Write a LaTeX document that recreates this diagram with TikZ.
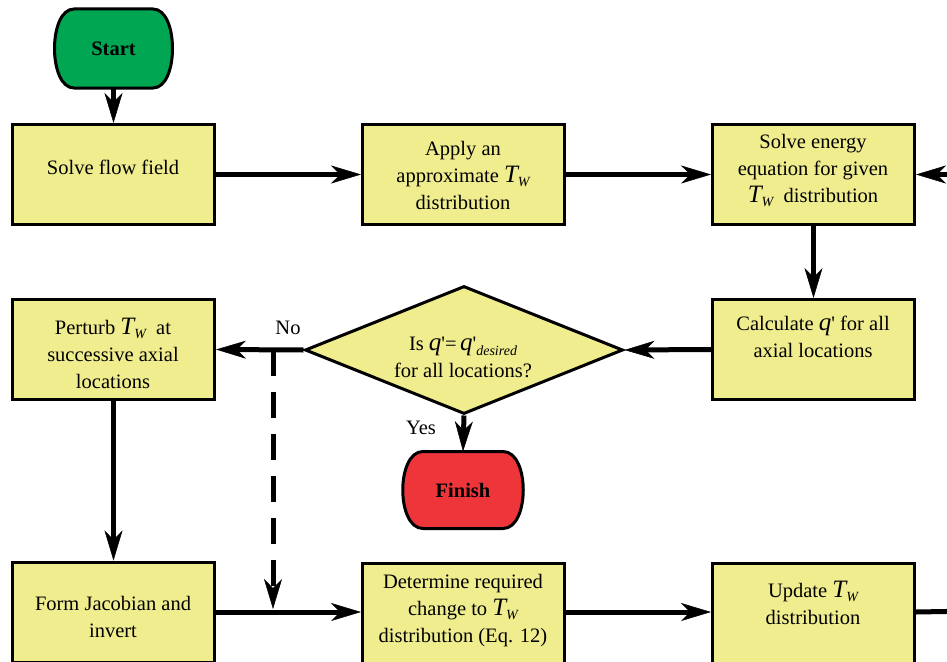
\documentclass[tikz,border=0pt]{standalone}
\usepackage{fontspec}
\setmainfont{Liberation Serif}
\usetikzlibrary{arrows.meta,shapes.geometric}
\definecolor{boxy}{RGB}{240,237,143}
\definecolor{startg}{RGB}{0,166,81}
\definecolor{finr}{RGB}{238,53,58}
\newcommand{\TW}{{\fontsize{25}{25}\selectfont\itshape T}\raisebox{-4pt}{\fontsize{14}{14}\selectfont\itshape W}}
\newcommand{\qp}{{\fontsize{25}{25}\selectfont\itshape q}\textquotesingle}
\begin{document}
\begin{tikzpicture}[x=1pt,y=-1pt,
  box/.style={draw, line width=3pt, fill=boxy, minimum width=202pt, minimum height=100pt, inner sep=0pt},
  txt/.style={align=center, font=\fontsize{20.5}{27}\selectfont, inner sep=0pt},
  term/.style={line width=3pt, draw=black},
  conn/.style={line width=5pt, -{Stealth[length=30pt,width=18pt,inset=9pt,line width=0.5pt]}},
  dconn/.style={line width=5pt, dash pattern=on 26pt off 16pt, -{Stealth[length=30pt,width=18pt,inset=9pt,line width=0.5pt]}},
  plain/.style={line width=5pt}]
\useasboundingbox (0,0) rectangle (947,661);
\clip (0,0) rectangle (947,661);
\fill[white] (0,0) rectangle (947,661);

% terminals
\draw[term, fill=startg] (74,9) -- (153,9) .. controls (179,9) and (179,88) .. (153,88) -- (74,88) .. controls (48,88) and (48,9) .. (74,9) -- cycle;
\node[txt, font=\fontsize{20.5}{24}\selectfont\bfseries, minimum width=118pt, minimum height=79pt] (start) at (113.5,48.5) {Start};

\draw[term, fill=finr] (423,451.5) -- (503,451.5) .. controls (530,451.5) and (530,528.5) .. (503,528.5) -- (423,528.5) .. controls (396,528.5) and (396,451.5) .. (423,451.5) -- cycle;
\node[txt, font=\fontsize{20.5}{24}\selectfont\bfseries, minimum width=120pt, minimum height=77pt] (fin) at (463,490) {Finish};

% boxes
\node[box] (flow) at (113.5,174.5) {};
\node[box] (apply) at (463.5,174.5) {};
\node[box] (energy) at (813.5,174.5) {};
\node[box] (calc) at (813.5,349.5) {};
\node[box] (perturb) at (113.5,349.5) {};
\node[box] (form) at (113.5,612) {};
\node[box] (det) at (463.5,613) {};
\node[box] (upd) at (813.5,613) {};
\node[draw, diamond, fill=boxy, line width=3pt, minimum width=318pt, minimum height=128pt, inner sep=0pt] (dec) at (464,350) {};

% texts
\node[txt] (flowt) at (113,167) {Solve flow field};
\node[txt] (applyt) at (463,175) {Apply an\\approximate \TW\\distribution};
\node[txt] (energyt) at (813,170) {Solve energy\\equation for given\\\TW\ \ distribution};
\node[txt] (calct) at (813,337) {Calculate \qp\ for all\\axial locations};
\node[txt] (perturbt) at (113,353) {Perturb \TW\ \ at\\successive axial\\locations};
\node[txt] (dect) at (463,357) {Is \qp=\,\qp\raisebox{-5pt}{\fontsize{14}{14}\selectfont\itshape desired}\\for all locations?};
\node[txt] (formt) at (113,617) {Form Jacobian and\\invert};
\node[txt] (dett) at (463,611) {Determine required\\change to \TW\\distribution (Eq. 12)};
\node[txt] (updt) at (813,603) {Update \TW\\distribution};
\node[txt] (no) at (288,328) {No};
\node[txt] (yes) at (421,428) {Yes};

% connectors
\coordinate (rin) at (975,174.5);
\coordinate (rout) at (975,611);
\coordinate (nj) at (273,350);
\draw[conn] (start.south) -- (start.south |- flow.north);
\draw[conn] (flow.east) -- (apply.west);
\draw[conn] (apply.east) -- (energy.west);
\draw[conn] (rin) -- (energy.east);
\draw[conn] (energy.south) -- (calc.north);
\draw[conn] (calc.west) -- (dec.east);
\draw[conn] (dec.west) -- (perturb.east);
\draw[dconn, shorten >=3pt] (nj) -- (nj |- form.east);
\draw[conn] (dec.south) -- (fin.north);
\draw[conn] (perturb.south) -- (form.north);
\draw[conn] (form.east) -- (form.east -| det.west);
\draw[conn] (det.east |- form.east) -- (form.east -| upd.west);
\draw[plain] (upd.east |- form.east) -- (rout);
\end{tikzpicture}
\end{document}
